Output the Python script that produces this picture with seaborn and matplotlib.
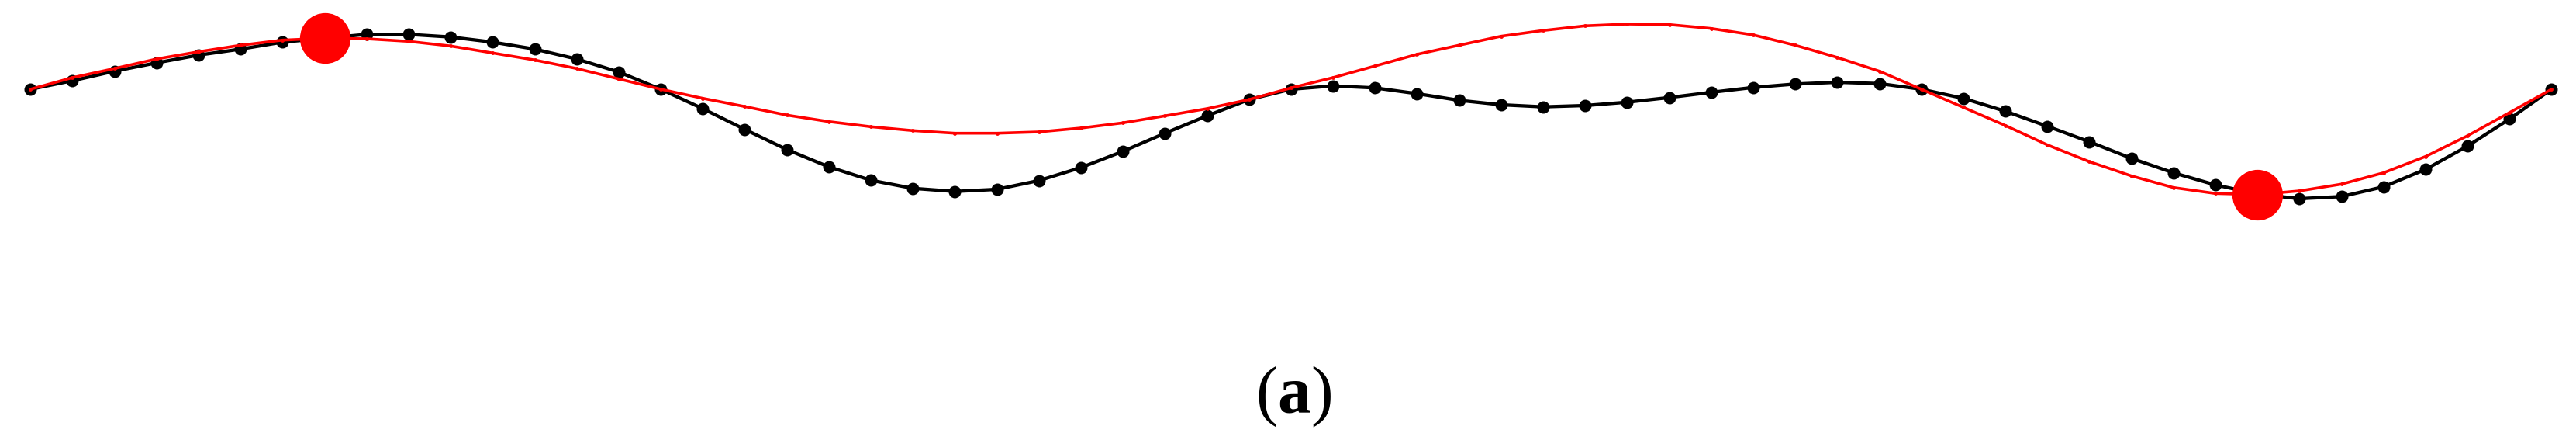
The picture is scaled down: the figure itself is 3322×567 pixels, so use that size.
import numpy as np
import pandas as pd
import matplotlib
matplotlib.use("Agg")
import matplotlib.pyplot as plt
from matplotlib.offsetbox import TextArea, HPacker, AnchoredOffsetbox
import seaborn as sns

# Sample positions (index along the curve)
idx = list(range(61))

# Black polyline (measured curve), vertical position (down = larger)
black_y = [115, 104, 91.7, 81, 71, 63.3, 54.3, 49.3, 44.3, 44.3,
           47.7, 54.3, 63.3, 76, 92.7, 115, 140, 166.7, 192.7, 215,
           232.3, 242.7, 246.7, 244, 232.7, 216, 195, 171.7, 149.3, 128.3,
           115, 110.7, 113.3, 120.7, 129.3, 135, 137.7, 136, 131.7, 125.7,
           119, 112.7, 108.3, 106, 107.7, 115, 126.7, 143.3, 162.7, 182.7,
           204, 222.7, 238.3, 250, 256, 253.3, 240.7, 218.3, 188.3, 153.3, 115]

# Red smooth curve
red_y = [115, 100, 88.3, 76, 66.7, 58.3, 51.7, 49.3, 50, 53.3,
         59.3, 68.3, 77.3, 88.3, 101.7, 115, 126.7, 137.3, 148.3, 156.7,
         163.3, 168.3, 171.7, 171.7, 170, 165, 158.3, 149.3, 140, 128.3,
         113.3, 100, 85, 70, 58.3, 46.7, 39.3, 33.3, 31, 31.7,
         36.7, 45, 58.3, 74, 91.7, 115, 138.3, 161.7, 186.7, 208.3,
         226.7, 241.7, 249.3, 250.7, 246, 237.3, 222.7, 201.7, 175, 145, 115]

# Highlighted key points (indices into the red curve)
key_idx = [7, 53]

label_parts = ["(", "a", ")"]

df = pd.DataFrame({"idx": idx, "black": black_y, "red": red_y})
key_df = df.iloc[key_idx]

sns.set_theme(style="white")

W, H = 3323, 567
fig = plt.figure(figsize=(W / 100, H / 100), dpi=100)
plot_h = 400
ax = fig.add_axes([0, 1 - plot_h / H, 1, plot_h / H])

sns.lineplot(data=df, x="idx", y="black", ax=ax, color="black", lw=3.1,
             marker="o", markersize=11.5, markeredgewidth=0,
             markerfacecolor="black", zorder=2, sort=False)
sns.lineplot(data=df, x="idx", y="red", ax=ax, color="red", lw=2.6,
             marker="o", markersize=3.5, markeredgewidth=0,
             markerfacecolor="red", zorder=3, sort=False)
sns.scatterplot(data=key_df, x="idx", y="red", ax=ax, color="red",
                s=47 ** 2, linewidth=0, zorder=4)

ax.set_xlim(-0.725, 60.6)
ax.set_ylim(plot_h, 0)
ax.set_axis_off()

fam = ["Liberation Serif", "DejaVu Serif"]
boxes = [
    TextArea(label_parts[0], textprops=dict(fontsize=62, family=fam, color="black")),
    TextArea(label_parts[1], textprops=dict(fontsize=62, family=fam, color="black", fontweight="bold")),
    TextArea(label_parts[2], textprops=dict(fontsize=62, family=fam, color="black")),
]
pack = HPacker(children=boxes, align="baseline", pad=0, sep=0)
anch = AnchoredOffsetbox(loc="center", child=pack, pad=0, frameon=False,
                         bbox_to_anchor=(1669 / W, 1 - 511 / H),
                         bbox_transform=fig.transFigure, borderpad=0)
fig.add_artist(anch)

fig.savefig("out.png", dpi=100, facecolor="white")
